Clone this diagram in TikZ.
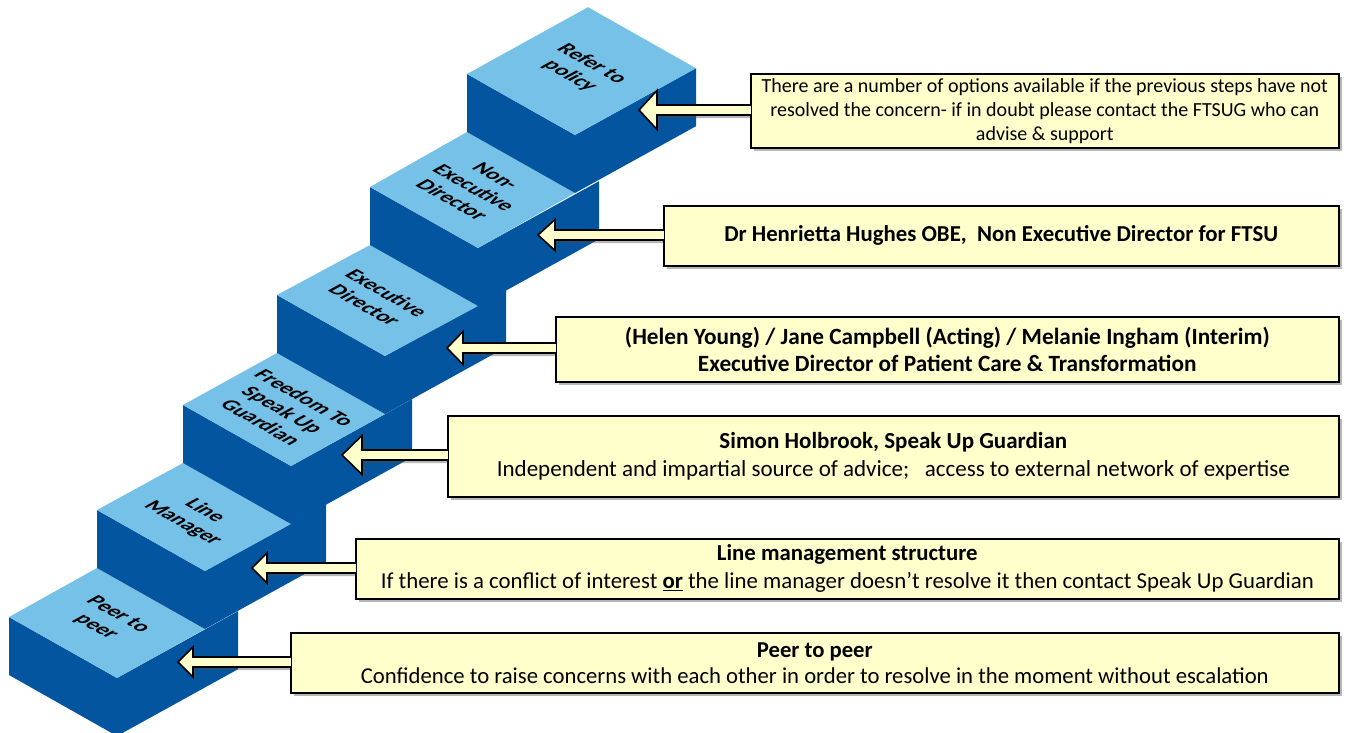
\documentclass[tikz,border=0pt]{standalone}
\usepackage{fontspec}
\setmainfont{Carlito}
\usetikzlibrary{shadows,calc}
\pgfdeclarelayer{background}
\pgfsetlayers{background,main}
\definecolor{steplight}{RGB}{117,193,232}
\definecolor{stepdark}{RGB}{3,85,159}
\definecolor{callfill}{RGB}{255,255,204}
\tikzset{
  myshadow/.style={drop shadow={shadow xshift=3pt,shadow yshift=-3pt,opacity=0.4,fill=black!70}},
  callbox/.style={draw=black,line width=1.6pt,fill=callfill,myshadow,inner sep=0pt,align=center,anchor=north west},
  callarrowstyle/.style={draw=black,line width=1.6pt,fill=callfill,myshadow,line join=miter},
  steptext/.style={font=\bfseries\fontsize{21.5}{25}\selectfont,align=center,inner sep=0pt,text=black},
  bigtxt/.style={font=\fontsize{22.8}{28}\selectfont},
}
\newcommand\stairblock[4]{%
  \fill[stepdark] (#1,#2) -- ++(108,61) -- ++(121,-66.8) -- ++(0,58) -- ++(-121,66.8) -- ++(-108,-61) -- cycle;
  \fill[steplight] (#1,#2) -- ++(#3,#4) -- ++(108,61) -- (#1+108,#2+61) -- cycle;}
\newcommand\steplabel[4]{%
  \begin{scope}[shift={(#1,#2)},cm={0.871,-0.492,0.876,0.484,(0,0)}]
    \node[steptext,transform shape] (#3) at (0,0) {#4};
  \end{scope}}
\newcommand\callarrow[4]{%
  \begin{pgfonlayer}{background}
    \path[callarrowstyle] (#2) -- ++(#3,-#4) -- ++(0,#4-5) -- ($(#1.west |- #2)+(4,-5)$)
      -- ($(#1.west |- #2)+(4,5)$) -- ($(#2)+(#3,5)$) -- ++(0,#4-5) -- cycle;
  \end{pgfonlayer}
  \fill[callfill] ($(#1.west |- #2)+(-1.2,-4.1)$) rectangle ($(#1.west |- #2)+(1.2,4.1)$);}
\begin{document}
\begin{tikzpicture}[x=1pt,y=-1pt]
\useasboundingbox (0,0) rectangle (1364,732);
\begin{pgfonlayer}{background}
\fill[white] (0,0) rectangle (1364,732);
% staircase
\stairblock{9}{617}{88}{-49}
\stairblock{97}{510}{86}{-47}
\stairblock{183}{405}{94}{-52}
\stairblock{277}{295}{93}{-50}
\stairblock{370}{187}{97}{-55}
\stairblock{467}{74}{121}{-66.8}
\end{pgfonlayer}
% step labels
\steplabel{107}{621}{s0}{Peer to\\peer}
\steplabel{194}{517}{s1}{Line\\Manager}
\steplabel{283}{410}{s2}{Freedom To\\Speak Up\\Guardian}
\steplabel{376}{299}{s3}{Executive\\Director}
\steplabel{474}{188}{s4}{Non-\\Executive\\Director}
\steplabel{581}{70}{s5}{Refer to\\policy}
% arrow tips
\coordinate (t5) at (639,110);
\coordinate (t4) at (538,235);
\coordinate (t3) at (447,348);
\coordinate (t2) at (342,455);
\coordinate (t1) at (252,568);
\coordinate (t0) at (178,662);
% callout boxes
\node[callbox,minimum width=588pt,minimum height=74pt,font=\fontsize{20}{24}\selectfont] (b5) at (750,73)
  {There are a number of options available if the previous steps have not\\resolved the concern- if in doubt please contact the FTSUG who can\\advise \& support};
\callarrow{b5}{t5}{18}{19.5}
\node[callbox,minimum width=675pt,minimum height=60pt,font=\bfseries\fontsize{22.8}{28}\selectfont] (b4) at (663,205)
  {Dr Henrietta Hughes OBE,\ \ Non Executive Director for FTSU};
\callarrow{b4}{t4}{17}{15.5}
\node[callbox,minimum width=783pt,minimum height=65pt,font=\bfseries\fontsize{23.3}{27}\selectfont] (b3) at (555,316)
  {(Helen Young) / Jane Campbell (Acting) / Melanie Ingham (Interim)\\Executive Director of Patient Care \& Transformation};
\callarrow{b3}{t3}{16}{16.5}
\node[callbox,minimum width=891pt,minimum height=81pt,font=\fontsize{23}{28}\selectfont] (b2) at (447,415)
  {\textbf{Simon Holbrook, Speak Up Guardian}\\Independent and impartial source of advice;\ \ \ access to external network of expertise};
\callarrow{b2}{t2}{20}{19.5}
\node[callbox,minimum width=983pt,minimum height=60pt,bigtxt] (b1) at (355,538)
  {\textbf{Line management structure}\\If there is a conflict of interest \textbf{\underline{or}} the line manager doesn’t resolve it then contact Speak Up Guardian};
\callarrow{b1}{t1}{15}{15}
\node[callbox,minimum width=1048pt,minimum height=60pt,font=\fontsize{22.7}{26}\selectfont] (b0) at (290,632)
  {\textbf{Peer to peer}\\Confidence to raise concerns with each other in order to resolve in the moment without escalation};
\callarrow{b0}{t0}{15}{15}
\end{tikzpicture}
\end{document}
